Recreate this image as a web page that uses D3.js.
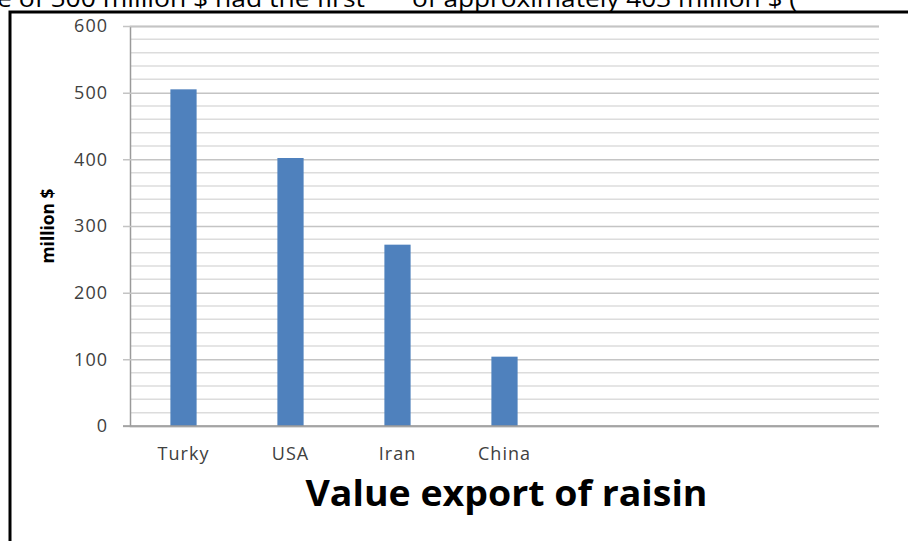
<!DOCTYPE html>
<head>
    <meta charset=utf-8>
    <title>Value export of raisin</title>
    <script src="https://d3js.org/d3.v7.min.js"></script>
    <style>
        body { margin: 0; background: #ffffff; }
        text { font-family: "Open Sans", sans-serif; }
        .tick text { fill: #404040; font-size: 18px; letter-spacing: 1px; }
    </style>
</head>
<body>
<script type="text/javascript">
    // chart data
    var countries = ["Turky", "USA", "Iran", "China", "", " ", "  "];
    var exportValues = [505, 402, 272, 104];
    var yTicks = [0, 100, 200, 300, 400, 500, 600];
    var minorStep = 20;

    var svg_dx = 908, svg_dy = 541;
    var margin = {top: 26, right: 29, bottom: 115, left: 130};

    var x = d3.scaleBand().domain(countries)
            .range([margin.left, svg_dx - margin.right])
            .paddingInner(0.755).paddingOuter(0.3775),
        y = d3.scaleLinear().domain([0, 600])
            .range([svg_dy - margin.bottom, margin.top]);

    var svg = d3.select("body").append("svg")
        .attr("width", svg_dx)
        .attr("height", svg_dy);

    // caption text of the page above the figure, cut by the crop
    svg.append("text").attr("x", -3).attr("y", 7)
        .attr("textLength", 368).attr("lengthAdjust", "spacingAndGlyphs")
        .style("font-size", "24px").attr("fill", "#000")
        .text("e of 500 million $ had the first");
    svg.append("text").attr("x", 412).attr("y", 7)
        .attr("textLength", 385).attr("lengthAdjust", "spacingAndGlyphs")
        .style("font-size", "24px").attr("fill", "#000")
        .text("of approximately 403 million $ (");

    // frame
    svg.append("rect")
        .attr("x", 10).attr("y", 12)
        .attr("width", 1000).attr("height", 600)
        .attr("fill", "none").attr("stroke", "#000").attr("stroke-width", 3);

    // minor gridlines
    var minor = d3.range(0, 601, minorStep).filter(v => v % 100 != 0);
    svg.append("g").selectAll("line").data(minor).enter().append("line")
        .attr("x1", margin.left).attr("x2", svg_dx - margin.right)
        .attr("y1", d => y(d)).attr("y2", d => y(d))
        .attr("stroke", "#dcdcdc").attr("stroke-width", 1.5);

    // y axis with major gridlines
    var axis_y = d3.axisLeft(y).tickValues(yTicks)
        .tickSize(-(svg_dx - margin.right - margin.left)).tickPadding(22);
    var gy = svg.append("g")
        .attr("transform", "translate(" + margin.left + ",0)")
        .call(axis_y);
    gy.select(".domain").attr("stroke", "#9a9a9a").attr("stroke-width", 1.5);
    gy.selectAll(".tick line").attr("stroke", "#c4c4c4").attr("stroke-width", 1.5)
        .attr("x1", -7);

    // bars
    svg.append("g").selectAll("rect").data(exportValues).enter().append("rect")
        .attr("x", (d, i) => x(countries[i]))
        .attr("y", d => y(d))
        .attr("width", x.bandwidth())
        .attr("height", d => y(0) - y(d))
        .attr("fill", "#4f81bd");

    // x axis
    var axis_x = d3.axisBottom(x).tickSize(0).tickPadding(21);
    var gx = svg.append("g")
        .attr("transform", "translate(0," + y(0) + ")")
        .call(axis_x);
    gx.select(".domain").attr("stroke", "#9a9a9a").attr("stroke-width", 1.5)
        .attr("d", "M" + (margin.left - 7) + ",0H" + (svg_dx - margin.right));

    // axis title
    svg.append("text")
        .attr("transform", "translate(54," + y(300) + ") rotate(-90)")
        .attr("text-anchor", "middle")
        .attr("textLength", 75).attr("lengthAdjust", "spacingAndGlyphs")
        .style("font-size", "17px").style("font-weight", "bold")
        .attr("fill", "#000")
        .text("million $");

    // chart title
    svg.append("text")
        .attr("x", (margin.left + svg_dx - margin.right) / 2 + 2)
        .attr("y", 506)
        .attr("text-anchor", "middle")
        .attr("textLength", 402).attr("lengthAdjust", "spacingAndGlyphs")
        .style("font-size", "35px").style("font-weight", "bold")
        .attr("fill", "#000")
        .text("Value export of raisin");
</script>
</body>
